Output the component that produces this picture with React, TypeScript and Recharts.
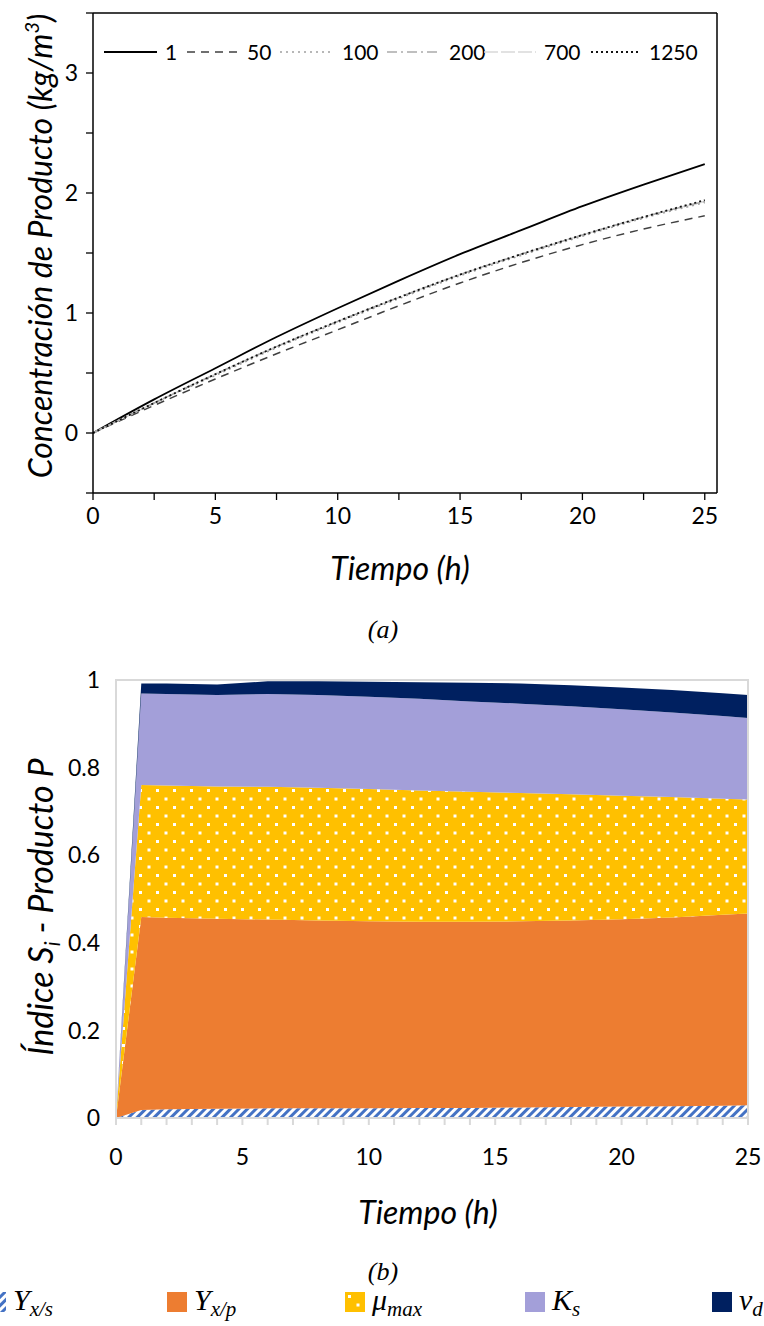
import React from 'react';
import { LineChart, Line, XAxis, YAxis, AreaChart, Area, ReferenceArea } from 'recharts';

// ---------- Chart (a): product concentration ----------
const timeA = [0, 2.5, 5, 7.5, 10, 12.5, 15, 17.5, 20, 22.5, 25];
const p1 = [0, 0.28, 0.54, 0.8, 1.04, 1.27, 1.49, 1.69, 1.89, 2.07, 2.24];
const p50 = [0, 0.23, 0.45, 0.66, 0.86, 1.06, 1.25, 1.42, 1.57, 1.7, 1.81];
const p100 = [0, 0.25, 0.48, 0.71, 0.92, 1.12, 1.31, 1.48, 1.64, 1.79, 1.92];
const p200 = [0, 0.25, 0.49, 0.72, 0.93, 1.13, 1.32, 1.49, 1.65, 1.8, 1.93];
const p700 = [0, 0.25, 0.49, 0.72, 0.93, 1.13, 1.32, 1.49, 1.65, 1.8, 1.93];
const p1250 = [0, 0.25, 0.49, 0.72, 0.93, 1.13, 1.32, 1.49, 1.65, 1.8, 1.94];
const seriesNamesA = ['1', '50', '100', '200', '700', '1250'];
const xTicksA = [0, 2.5, 5, 7.5, 10, 12.5, 15, 17.5, 20, 22.5, 25];
const yTicksA = [-0.5, 0, 0.5, 1, 1.5, 2, 2.5, 3, 3.5];

// ---------- Chart (b): sensitivity index ----------
const timeB = [0, 1, 2, 4, 6, 8, 10, 12, 14, 16, 18, 20, 22, 24, 25];
const yxs = [0, 0.018, 0.02, 0.021, 0.022, 0.022, 0.022, 0.023, 0.023, 0.024, 0.025, 0.026, 0.027, 0.028, 0.029];
const yxp = [0, 0.441, 0.437, 0.434, 0.431, 0.429, 0.427, 0.425, 0.425, 0.425, 0.426, 0.428, 0.431, 0.436, 0.438];
const mumax = [0, 0.301, 0.302, 0.302, 0.303, 0.303, 0.302, 0.3, 0.297, 0.293, 0.288, 0.282, 0.275, 0.265, 0.26];
const ks = [0, 0.209, 0.209, 0.209, 0.212, 0.212, 0.211, 0.209, 0.206, 0.204, 0.201, 0.197, 0.193, 0.189, 0.186];
const vd = [0, 0.023, 0.024, 0.024, 0.029, 0.031, 0.034, 0.038, 0.043, 0.046, 0.048, 0.05, 0.051, 0.052, 0.053];
const xTicksB = Array.from({ length: 26 }, (_, i) => i);
const yTicksB = [0, 0.2, 0.4, 0.6, 0.8, 1];
const legendB = [
  { base: 'Y', sub: 'x/s' },
  { base: 'Y', sub: 'x/p' },
  { base: 'μ', sub: 'max' },
  { base: 'K', sub: 's' },
  { base: 'v', sub: 'd' },
];

const seriesA = [p1, p50, p100, p200, p700, p1250];
const dataA = timeA.map((t, i) => {
  const row: Record<string, number> = { t };
  seriesNamesA.forEach((n, k) => (row['s' + n] = seriesA[k][i]));
  return row;
});
const dataB = timeB.map((t, i) => ({ t, yxs: yxs[i], yxp: yxp[i], mu: mumax[i], ks: ks[i], vd: vd[i] }));

const lineStyles: Record<string, { stroke: string; dash?: string; w: number }> = {
  '1': { stroke: '#000', w: 1.8 },
  '50': { stroke: '#404040', dash: '8 6', w: 1.5 },
  '100': { stroke: '#a0a0a0', dash: '2 4', w: 1.6 },
  '200': { stroke: '#ababab', dash: '10 4 2 4', w: 1.5 },
  '700': { stroke: '#d9d9d9', dash: '14 3', w: 1.6 },
  '1250': { stroke: '#111', dash: '2 3', w: 1.8 },
};
const drawOrderA = ['1', '50', '700', '200', '100', '1250'];
const legendPosA = [
  [104, 165],
  [187, 247],
  [280, 342],
  [387, 449],
  [484, 544],
  [591, 649],
];

const fillsB: Record<string, string> = {
  yxs: 'url(#hatchBlue)',
  yxp: '#ed7d31',
  mu: 'url(#dotsYellow)',
  ks: '#a39fd9',
  vd: '#002060',
};
const legendKeysB = ['yxs', 'yxp', 'mu', 'ks', 'vd'];
const legendPosB = [-14, 167, 345, 525, 712];

const SANS = 'Lato, "Open Sans", sans-serif';
const SERIF = '"Liberation Serif", "Times New Roman", serif';

const tickA = { fill: '#000', fontSize: 23, fontFamily: SANS };
const fmtInt = (v: number) => (Number.isInteger(v) ? String(v) : '');
const fmt5 = (v: number) => (v % 5 === 0 ? String(v) : '');

function PatternDefs({ prefix = '' }: { prefix?: string }) {
  return (
    <defs>
      <pattern id={prefix + 'hatchBlue'} width="6" height="6" patternUnits="userSpaceOnUse" patternTransform="rotate(45)">
        <rect width="6" height="6" fill="#ffffff" />
        <rect width="3" height="6" fill="#4472c4" />
      </pattern>
      <pattern id={prefix + 'dotsYellow'} width="17" height="17" patternUnits="userSpaceOnUse">
        <rect width="17" height="17" fill="#ffc000" />
        <rect x="3" y="3" width="3" height="3" fill="#ffffff" />
        <rect x="11.5" y="11.5" width="3" height="3" fill="#ffffff" />
      </pattern>
    </defs>
  );
}

const axisBlack = { stroke: '#000', strokeWidth: 1.5 };
const tickBlack = { stroke: '#000', strokeWidth: 1.3 };

export default function App() {
  return (
    <div style={{ position: 'relative', width: 764, height: 1326, overflow: 'hidden', background: '#fff' }}>
      <style>{`body{margin:0;}`}</style>

      {/* Chart (a) */}
      <div style={{ position: 'absolute', left: 0, top: 0 }}>
        <LineChart width={764} height={600} data={dataA} margin={{ top: 13, right: 47, left: 0, bottom: 40 }}>
          <XAxis
            dataKey="t"
            type="number"
            domain={[0, 25.5]}
            allowDataOverflow
            ticks={xTicksA}
            interval={0}
            tickFormatter={fmt5}
            height={67}
            tickSize={7}
            tickMargin={8}
            tick={tickA}
            axisLine={axisBlack}
            tickLine={tickBlack}
          />
          <XAxis
            xAxisId="top"
            dataKey="t"
            orientation="top"
            type="number"
            domain={[0, 25.5]}
            allowDataOverflow
            ticks={xTicksA}
            interval={0}
            mirror
            height={1}
            tick={false}
            tickSize={7}
            axisLine={axisBlack}
            tickLine={tickBlack}
          />
          <YAxis
            type="number"
            domain={[-0.5, 3.5]}
            allowDataOverflow
            ticks={yTicksA}
            interval={0}
            tickFormatter={fmtInt}
            width={93}
            tickSize={7}
            tickMargin={8}
            tick={tickA}
            axisLine={axisBlack}
            tickLine={tickBlack}
          />
          <YAxis
            yAxisId="right"
            orientation="right"
            type="number"
            domain={[-0.5, 3.5]}
            allowDataOverflow
            ticks={yTicksA}
            interval={0}
            mirror
            width={1}
            tick={false}
            tickSize={7}
            axisLine={axisBlack}
            tickLine={tickBlack}
          />
          {/* invisible series so the frame axes (top/right) are resolved */}
          <Line
            xAxisId="top"
            yAxisId="right"
            dataKey="s1"
            stroke="none"
            dot={false}
            activeDot={false}
            legendType="none"
            isAnimationActive={false}
          />
          {drawOrderA.map((n) => (
            <Line
              key={n}
              type="monotone"
              dataKey={'s' + n}
              name={n}
              stroke={lineStyles[n].stroke}
              strokeWidth={lineStyles[n].w}
              strokeDasharray={lineStyles[n].dash}
              dot={false}
              activeDot={false}
              isAnimationActive={false}
            />
          ))}
        </LineChart>
      </div>

      {/* Legend (a) */}
      {seriesNamesA.map((n, i) => {
        const st = lineStyles[n];
        const [x0, xl] = legendPosA[i];
        return (
          <React.Fragment key={n}>
            <svg style={{ position: 'absolute', left: x0, top: 47 }} width={xl - x0 - 8} height={10}>
              <line x1={0} y1={5} x2={xl - x0 - 8} y2={5} stroke={st.stroke} strokeWidth={st.w} strokeDasharray={st.dash} />
            </svg>
            <div style={{ position: 'absolute', left: xl, top: 38, fontFamily: SANS, fontSize: 21, lineHeight: '28px', color: '#000' }}>{n}</div>
          </React.Fragment>
        );
      })}

      {/* Titles (a) */}
      <div style={{ position: 'absolute', left: 250, width: 300, top: 549, textAlign: 'center', fontFamily: SANS, fontStyle: 'italic', fontSize: 32, lineHeight: '38px' }}>
        Tiempo (h)
      </div>
      <div
        style={{
          position: 'absolute',
          left: 40 - 260,
          top: 246 - 19,
          width: 520,
          height: 38,
          textAlign: 'center',
          transform: 'rotate(-90deg)',
          transformOrigin: '50% 50%',
          fontFamily: SANS,
          fontStyle: 'italic',
          fontSize: 32,
          lineHeight: '38px',
          whiteSpace: 'nowrap',
        }}
      >
        Concentración de Producto (kg/m<sup style={{ fontSize: 20, verticalAlign: 'top', lineHeight: '20px' }}>3</sup>)
      </div>
      <div style={{ position: 'absolute', left: 283, width: 200, top: 614, textAlign: 'center', fontFamily: SERIF, fontStyle: 'italic', fontSize: 26, lineHeight: '32px' }}>
        (a)
      </div>

      {/* Chart (b) */}
      <div style={{ position: 'absolute', left: 0, top: 650 }}>
        <AreaChart width={764} height={520} data={dataB} margin={{ top: 30, right: 16, left: 0, bottom: 0 }}>
          <PatternDefs />
          <XAxis
            dataKey="t"
            type="number"
            domain={[0, 25]}
            ticks={xTicksB}
            interval={0}
            tickFormatter={fmt5}
            height={52}
            tickSize={7}
            tickMargin={24}
            tick={{ fill: '#000', fontSize: 23, fontFamily: SANS }}
            axisLine={{ stroke: '#d9d9d9', strokeWidth: 2 }}
            tickLine={{ stroke: '#d9d9d9', strokeWidth: 2 }}
          />
          <YAxis
            type="number"
            domain={[0, 1]}
            ticks={yTicksB}
            interval={0}
            width={116}
            tickSize={0}
            tickMargin={16}
            tick={{ fill: '#000', fontSize: 23, fontFamily: SANS }}
            axisLine={false}
            tickLine={false}
          />
          {legendKeysB.map((k) => (
            <Area
              key={k}
              type="linear"
              dataKey={k}
              stackId="s"
              fill={fillsB[k]}
              fillOpacity={1}
              stroke="none"
              isAnimationActive={false}
              activeDot={false}
            />
          ))}
          <ReferenceArea x1={0} x2={25} y1={0} y2={1} fill="none" stroke="#d9d9d9" strokeWidth={2} ifOverflow="visible" />
        </AreaChart>
      </div>

      {/* Titles (b) */}
      <div style={{ position: 'absolute', left: 278, width: 300, top: 1193, textAlign: 'center', fontFamily: SANS, fontStyle: 'italic', fontSize: 32, lineHeight: '38px' }}>
        Tiempo (h)
      </div>
      <div
        style={{
          position: 'absolute',
          left: 40 - 200,
          top: 907 - 20,
          width: 400,
          height: 40,
          textAlign: 'center',
          transform: 'rotate(-90deg)',
          transformOrigin: '50% 50%',
          fontFamily: SANS,
          fontStyle: 'italic',
          fontSize: 34,
          lineHeight: '40px',
          whiteSpace: 'nowrap',
        }}
      >
        Índice S<sub style={{ fontSize: 21, verticalAlign: 'baseline', position: 'relative', top: 7 }}>i</sub> - Producto P
      </div>
      <div style={{ position: 'absolute', left: 283, width: 200, top: 1256, textAlign: 'center', fontFamily: SERIF, fontStyle: 'italic', fontSize: 26, lineHeight: '32px' }}>
        (b)
      </div>

      {/* Legend (b) */}
      <svg style={{ position: 'absolute', left: 0, top: 0 }} width={0} height={0}>
        <PatternDefs prefix="lg-" />
      </svg>
      {legendB.map((it, i) => {
        const key = legendKeysB[i];
        const fill = fillsB[key].startsWith('url') ? fillsB[key].replace('url(#', 'url(#lg-') : fillsB[key];
        const x = legendPosB[i];
        return (
          <React.Fragment key={key}>
            <svg style={{ position: 'absolute', left: x, top: 1292 }} width={20} height={20}>
              <rect x={0} y={0} width={20} height={20} fill={fill} />
            </svg>
            <div
              style={{
                position: 'absolute',
                left: x + 27,
                top: 1282,
                fontFamily: SERIF,
                fontStyle: 'italic',
                fontSize: 30,
                lineHeight: '36px',
                whiteSpace: 'nowrap',
                color: '#000',
              }}
            >
              {it.base}
              <span style={{ fontSize: 21, position: 'relative', top: 6 }}>{it.sub}</span>
            </div>
          </React.Fragment>
        );
      })}
    </div>
  );
}
